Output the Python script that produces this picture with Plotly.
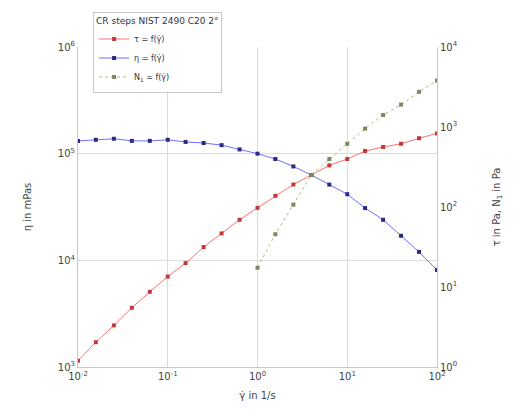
import plotly.graph_objects as go

shear_rate = [0.01, 0.0158, 0.0251, 0.0398, 0.0631, 0.1, 0.158, 0.251, 0.398, 0.631,
              1.0, 1.58, 2.51, 3.98, 6.31, 10.0, 15.8, 25.1, 39.8, 63.1, 100.0]
tau_pa = [1.20, 2.04, 3.31, 5.50, 8.71, 13.5, 19.9, 31.6, 46.8, 69.2,
          97.7, 138, 191, 251, 331, 398, 501, 562, 617, 724, 832]
eta_mpas = [131800, 134900, 138000, 131800, 131800, 134900, 128800, 125900, 120200, 109600,
            100000, 89100, 75900, 63100, 51300, 41700, 30900, 24000, 17000, 12000, 8130]
n1_pa = [None] * 10 + [17.4, 45.7, 107, 251, 398, 617, 955, 1413, 1905, 2754, 3802]

x_ticks = [0.01, 0.1, 1, 10, 100]
x_ticklabels = ["10<sup>-2</sup>", "10<sup>-1</sup>", "10<sup>0</sup>", "10<sup>1</sup>", "10<sup>2</sup>"]
y_ticks = [1e3, 1e4, 1e5, 1e6]
y_ticklabels = ["10<sup>3</sup>", "10<sup>4</sup>", "10<sup>5</sup>", "10<sup>6</sup>"]
y2_ticks = [1, 10, 100, 1000, 10000]
y2_ticklabels = ["10<sup>0</sup>", "10<sup>1</sup>", "10<sup>2</sup>", "10<sup>3</sup>", "10<sup>4</sup>"]

legend_title = "CR steps NIST 2490 C20 2°"
name_tau = "τ = f(γ̇)"
name_eta = "η = f(γ̇)"
name_n1 = "N<sub>1</sub> = f(γ̇)"

FONT = "DejaVu Sans"
fig = go.Figure()
fig.add_trace(go.Scatter(x=shear_rate, y=tau_pa, name=name_tau, yaxis="y2", mode="lines+markers",
                         line=dict(color="#ff7070", width=1),
                         marker=dict(symbol="square", size=4, color="#c03a3a")))
fig.add_trace(go.Scatter(x=shear_rate, y=eta_mpas, name=name_eta, yaxis="y", mode="lines+markers",
                         line=dict(color="#6f6fff", width=1),
                         marker=dict(symbol="square", size=4, color="#2a2a80")))
fig.add_trace(go.Scatter(x=shear_rate, y=n1_pa, name=name_n1, yaxis="y2", mode="lines+markers",
                         line=dict(color="#a8c070", width=1, dash="dot"),
                         marker=dict(symbol="square", size=4, color="#7a8a5a")))

axis_common = dict(type="log", showline=True, linecolor="#c8c8c8", linewidth=1, ticks="",
                   zeroline=False, tickfont=dict(family=FONT, size=10, color="#444"))

fig.update_layout(
    width=516, height=414,
    margin=dict(l=78, r=79, t=44, b=47),
    paper_bgcolor="white", plot_bgcolor="white",
    font=dict(family=FONT, size=10, color="#444"),
    xaxis=dict(range=[-2, 2], showgrid=True, gridcolor="#dcdcdc",
               tickvals=x_ticks, ticktext=x_ticklabels,
               title=dict(text="γ̇ in 1/s", font=dict(size=10), standoff=10), **axis_common),
    yaxis=dict(range=[3, 6], showgrid=True, gridcolor="#dcdcdc",
               tickvals=y_ticks, ticktext=y_ticklabels,
               title=dict(text="η in mPas", font=dict(size=10), standoff=24), **axis_common),
    yaxis2=dict(range=[0, 4], overlaying="y", side="right", showgrid=False,
                tickvals=y2_ticks, ticktext=y2_ticklabels,
                title=dict(text="τ in Pa, N<sub>1</sub> in Pa", font=dict(size=10), standoff=36),
                **axis_common),
    legend=dict(x=0.042, y=1.11, xanchor="left", yanchor="top",
                bgcolor="rgba(255,255,255,0.95)", bordercolor="#c8c8c8", borderwidth=1,
                font=dict(family=FONT, size=8, color="#334"),
                title=dict(text=legend_title, font=dict(family=FONT, size=9, color="#334")),
                tracegroupgap=0, itemwidth=30),
    showlegend=True,
)

fig.write_html("out.html")
